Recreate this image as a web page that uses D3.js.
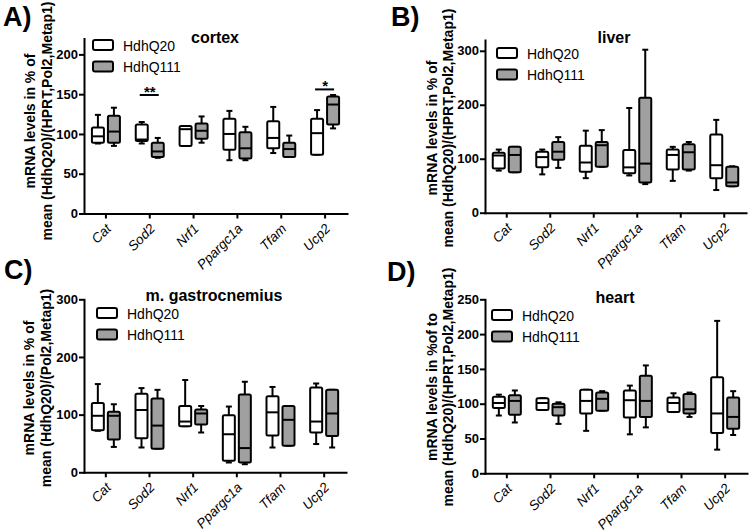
<!DOCTYPE html>
<html><head><meta charset="utf-8">
<script src="https://cdn.jsdelivr.net/npm/d3@7"></script>
<style>
body{margin:0;background:#fff;}
svg{display:block;font-family:Arial,"Liberation Sans",sans-serif;}
</style></head>
<body><svg id="c" width="749" height="531"></svg>
<script>
const genes = ["Cat","Sod2","Nrf1","Ppargc1a","Tfam","Ucp2"];
const seriesNames = ["HdhQ20","HdhQ111"];
// [min, q1, median, q3, max]
const cortexQ20  = [[88,89,97,108,124],[88,91,93,112,115],[85,85,106,110,110],[67,80,100,119,129],[76,82,95,116,134],[74,74,101,119,130]];
const cortexQ111 = [[85,89,103,123,133],[70,71,78,89,95],[89,94,104,113,122],[67,69,82,102,109],[71,71,81,89,98],[107,112,137,147,149]];
const liverQ20   = [[78,82,106,111,117],[71,84,103,113,117],[64,76,93,124,152],[69,73,84,116,194],[59,80,107,117,122],[42,64,88,145,172]];
const liverQ111  = [[75,75,107,122,122],[83,98,113,131,140],[85,85,125,131,153],[53,56,91,213,302],[78,80,112,127,131],[49,49,56,85,86]];
const gastroQ20  = [[72,73,98,120,153],[43,59,108,136,146],[80,80,88,115,160],[17,20,66,99,114],[43,64,104,132,148],[49,69,88,147,154]];
const gastroQ111 = [[44,57,98,105,118],[41,41,81,128,143],[69,83,102,109,115],[14,17,42,135,157],[46,46,91,115,115],[43,63,102,143,143]];
const heartQ20   = [[83,94,101,110,113],[91,91,101,108,108],[61,86,104,120,120],[56,80,105,119,126],[88,88,101,109,115],[34,58,86,138,219]];
const heartQ111  = [[73,84,104,112,119],[71,83,95,100,102],[90,90,107,116,118],[66,81,104,140,155],[81,86,92,114,116],[55,64,81,109,118]];
const cortexTicks = [0,50,100,150,200];
const liverTicks = [0,100,200,300];
const gastroTicks = [0,100,200,300];
const heartTicks = [0,50,100,150,200,250];
// significance: [gene, y value of bar, label]
const cortexSig = [["Sod2",149,"**"],["Ucp2",156,"*"]];

const fills = ["#ffffff","#a0a0a0"];
const panels = [
  {letter:"A)", lx:3, ly:26, title:"cortex", tx:215, ty:43, q20:cortexQ20, q111:cortexQ111, ticks:cortexTicks, max:220,
   xr:[84,347], yr:[213.5,38.5], leg:[93,40], yl:["mRNA levels in % of","mean (HdhQ20)/(HPRT,Pol2,Metap1)"], ylx:[35,52], ylc:121, sig:cortexSig},
  {letter:"B)", lx:391, ly:26, title:"liver", tx:614, ty:43, q20:liverQ20, q111:liverQ111, ticks:liverTicks, max:320,
   xr:[485,746], yr:[212.7,40], leg:[497,48], yl:["mRNA levels in % of","mean (HdhQ20)/(HPRT,Pol2,Metap1)"], ylx:[437,453], ylc:128, sig:[]},
  {letter:"C)", lx:4, ly:279, title:"m. gastrocnemius", tx:214, ty:301, q20:gastroQ20, q111:gastroQ111, ticks:gastroTicks, max:300,
   xr:[84,346], yr:[472.3,299.3], leg:[97,308], yl:["mRNA levels in % of","mean (HdhQ20)/(Pol2,Metap1)"], ylx:[34,51], ylc:388, sig:[]},
  {letter:"D)", lx:387, ly:281, title:"heart", tx:615, ty:303, q20:heartQ20, q111:heartQ111, ticks:heartTicks, max:250,
   xr:[485,747], yr:[473.3,299.3], leg:[492,310], yl:["mRNA levels in %of to","mean (HdhQ20)/(HPRT,Pol2,Metap1)"], ylx:[437,453], ylc:387, sig:[]}
];

const svg = d3.select("#c");
panels.forEach(p => {
  const g = svg.append("g");
  const x = d3.scaleBand().domain(genes).range(p.xr);
  const y = d3.scaleLinear().domain([0,p.max]).range(p.yr);
  // axes
  const ya = g.append("g").attr("transform",`translate(${p.xr[0]},0)`)
    .call(d3.axisLeft(y).tickValues(p.ticks).tickSize(5).tickSizeOuter(0).tickFormat(d3.format("d")));
  const xa = g.append("g").attr("transform",`translate(0,${p.yr[0]})`)
    .call(d3.axisBottom(x).tickSize(5).tickSizeOuter(0).tickFormat(""));
  [ya,xa].forEach(a=>{a.selectAll("path,line").attr("stroke","#000").attr("stroke-width",2);
    a.select(".domain").attr("stroke-linecap","square");});
  ya.selectAll("text").attr("font-size",13).attr("font-weight","bold").attr("font-family","Arial").attr("fill","#000").attr("x",-6);
  // x labels
  g.selectAll(".xl").data(genes).join("text")
    .attr("transform",d=>`translate(${x(d)+x.bandwidth()/2+6},${p.yr[0]+16}) rotate(-45)`)
    .attr("text-anchor","end").attr("font-style","italic").attr("font-size",13.5).attr("fill","#000").text(d=>d);
  // boxes
  [p.q20,p.q111].forEach((ser,si)=>{
    const off = si===0 ? -8 : 8, bw = 12, cw = 6;
    ser.forEach((v,i)=>{
      const cx = x(genes[i]) + x.bandwidth()/2 + off;
      const bg = g.append("g").attr("stroke","#000").attr("stroke-width",2).attr("fill","none").attr("stroke-linejoin","round");
      bg.append("line").attr("x1",cx).attr("x2",cx).attr("y1",y(v[4])).attr("y2",y(v[3]));
      bg.append("line").attr("x1",cx).attr("x2",cx).attr("y1",y(v[1])).attr("y2",y(v[0]));
      bg.append("line").attr("x1",cx-cw/2).attr("x2",cx+cw/2).attr("y1",y(v[4])).attr("y2",y(v[4]));
      bg.append("line").attr("x1",cx-cw/2).attr("x2",cx+cw/2).attr("y1",y(v[0])).attr("y2",y(v[0]));
      bg.append("rect").attr("x",cx-bw/2).attr("width",bw).attr("y",y(v[3])).attr("height",Math.max(0.5,y(v[1])-y(v[3])))
        .attr("rx",1.5).attr("fill",fills[si]);
      bg.append("line").attr("x1",cx-bw/2).attr("x2",cx+bw/2).attr("y1",y(v[2])).attr("y2",y(v[2]));
    });
  });
  // significance
  p.sig.forEach(s=>{
    const cx = x(s[0]) + x.bandwidth()/2;
    g.append("line").attr("x1",cx-10).attr("x2",cx+9).attr("y1",y(s[1])).attr("y2",y(s[1])).attr("stroke","#000").attr("stroke-width",2);
    g.append("text").attr("x",cx).attr("y",y(s[1])+2).attr("text-anchor","middle").attr("font-size",15).attr("font-weight","bold").text(s[2]);
  });
  // title
  g.append("text").attr("x",p.tx).attr("y",p.ty).attr("text-anchor","middle").attr("font-size",16).attr("font-weight","bold").text(p.title);
  // panel letter
  g.append("text").attr("x",p.lx).attr("y",p.ly).attr("font-size",27).attr("font-weight","bold").text(p.letter);
  // legend
  seriesNames.forEach((n,i)=>{
    const lx = p.leg[0], ly = p.leg[1] + i*21.5;
    g.append("rect").attr("x",lx).attr("y",ly).attr("width",20).attr("height",10).attr("rx",2)
      .attr("fill",fills[i]).attr("stroke","#000").attr("stroke-width",2);
    g.append("text").attr("x",lx+30).attr("y",ly+10.5).attr("font-size",14).text(n);
  });
  // y label
  p.yl.forEach((t,i)=>{
    g.append("text").attr("transform",`translate(${p.ylx[i]},${p.ylc}) rotate(-90)`)
      .attr("text-anchor","middle").attr("font-size",14).attr("font-weight","bold").text(t);
  });
});
</script></body></html>
